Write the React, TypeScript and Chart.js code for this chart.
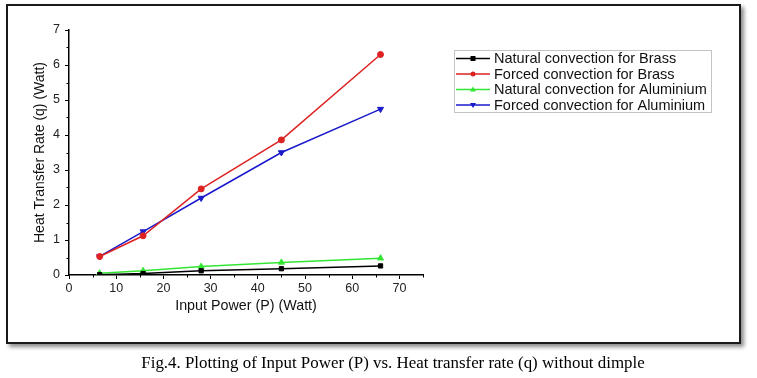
import React, { useEffect, useRef } from "react";
import { Chart, registerables } from "chart.js";

Chart.register(...registerables);

const inputPower = [6.5, 15.7, 28, 45, 66];
const naturalBrass = [0.01, 0.04, 0.12, 0.18, 0.26];
const forcedBrass = [0.53, 1.12, 2.46, 3.86, 6.3];
const naturalAluminium = [0.05, 0.12, 0.24, 0.36, 0.48];
const forcedAluminium = [0.53, 1.24, 2.2, 3.5, 4.74];

const seriesLabels = [
  "Natural convection for Brass",
  "Forced convection for Brass",
  "Natural convection for Aluminium",
  "Forced convection for Aluminium",
];
const xMajorTicks = [0, 10, 20, 30, 40, 50, 60, 70];
const yMajorTicks = [0, 1, 2, 3, 4, 5, 6, 7];
const xTitle = "Input Power (P) (Watt)";
const yTitle = "Heat Transfer Rate (q) (Watt)";
const caption = "Fig.4. Plotting of Input Power (P) vs. Heat transfer rate (q) without dimple";

const FONT = "'Liberation Sans', Arial, sans-serif";

const minorTicksPlugin = {
  id: "minorTicks",
  afterDraw(chart: any) {
    const ctx = chart.ctx;
    const xs = chart.scales.x;
    const ys = chart.scales.y;
    const area = chart.chartArea;
    ctx.save();
    ctx.strokeStyle = "#000";
    ctx.lineWidth = 1;
    for (let v = 5; v <= 75; v += 10) {
      const px = Math.round(xs.getPixelForValue(v)) + 0.5;
      ctx.beginPath();
      ctx.moveTo(px, area.bottom);
      ctx.lineTo(px, area.bottom + 2.5);
      ctx.stroke();
    }
    for (let v = 0.5; v <= 7; v += 1) {
      const py = Math.round(ys.getPixelForValue(v)) + 0.5;
      ctx.beginPath();
      ctx.moveTo(area.left, py);
      ctx.lineTo(area.left - 2.5, py);
      ctx.stroke();
    }
    ctx.restore();
  },
};

const legendPlugin = {
  id: "customLegend",
  afterDraw(chart: any) {
    const ctx = chart.ctx;
    const left = 454;
    const top = 50;
    const w = 257;
    const h = 62;
    ctx.save();
    ctx.strokeStyle = "#c4c4c4";
    ctx.lineWidth = 1;
    ctx.strokeRect(left + 0.5, top + 0.5, w, h);
    ctx.font = `14.5px ${FONT}`;
    ctx.textBaseline = "middle";
    ctx.textAlign = "left";
    chart.data.datasets.forEach((ds: any, i: number) => {
      const y = top + 8.5 + i * 15.5;
      ctx.strokeStyle = ds.borderColor;
      ctx.lineWidth = 1.5;
      ctx.beginPath();
      ctx.moveTo(left + 2, y);
      ctx.lineTo(left + 36, y);
      ctx.stroke();
      ctx.fillStyle = ds.backgroundColor;
      ctx.strokeStyle = ds.borderColor;
      ctx.lineWidth = 1;
      const style = ds.pointStyle;
      const cx = left + 19;
      const r = 2.5;
      ctx.beginPath();
      if (style === "rect") {
        ctx.rect(cx - r, y - r, 2 * r, 2 * r);
      } else if (style === "circle") {
        ctx.arc(cx, y, r, 0, Math.PI * 2);
      } else if (style === "triangle" && !ds.pointRotation) {
        ctx.moveTo(cx, y - r - 0.5);
        ctx.lineTo(cx + r + 0.5, y + r - 0.5);
        ctx.lineTo(cx - r - 0.5, y + r - 0.5);
        ctx.closePath();
      } else {
        ctx.moveTo(cx, y + r + 0.5);
        ctx.lineTo(cx + r + 0.5, y - r + 0.5);
        ctx.lineTo(cx - r - 0.5, y - r + 0.5);
        ctx.closePath();
      }
      ctx.fill();
      ctx.fillStyle = "#111";
      ctx.fillText(ds.label, left + 40, y + 0.5);
    });
    ctx.restore();
  },
};

export default function App() {
  const canvasRef = useRef<HTMLCanvasElement | null>(null);

  useEffect(() => {
    const canvas = canvasRef.current;
    if (!canvas) return;
    const mk = (label: string, data: number[], color: string, style: string, rot = 0, radius = 3) => ({
      label,
      data: inputPower.map((x, i) => ({ x, y: data[i] })),
      borderColor: color,
      backgroundColor: color,
      borderWidth: 1.5,
      pointStyle: style,
      pointRotation: rot,
      pointRadius: radius,
      pointBorderWidth: 1,
      tension: 0,
    });
    const chart = new Chart(canvas, {
      type: "line",
      data: {
        datasets: [
          mk(seriesLabels[0], naturalBrass, "#000000", "rect", 0, 3),
          mk(seriesLabels[1], forcedBrass, "#dd2222", "circle", 0, 3),
          mk(seriesLabels[2], naturalAluminium, "#33e633", "triangle", 0, 3.5),
          mk(seriesLabels[3], forcedAluminium, "#1a1acc", "triangle", 180, 3.5),
        ] as any,
      },
      options: {
        responsive: false,
        animation: false,
        events: [],
        layout: { padding: { left: 32, top: 30, right: 334, bottom: 63 } },
        plugins: { legend: { display: false }, tooltip: { enabled: false } },
        scales: {
          x: {
            type: "linear",
            min: 0,
            max: 75,
            afterBuildTicks: (s: any) => {
              s.ticks = xMajorTicks.map((v) => ({ value: v }));
            },
            afterFit: (s: any) => {
              s.height = 40;
            },
            grid: { display: true, drawOnChartArea: false, drawTicks: true, tickLength: 4, color: "#000", tickColor: "#000" },
            border: { display: true, color: "#000", width: 1.5 },
            ticks: { color: "#222", padding: 2, font: { family: FONT, size: 12.5 }, maxRotation: 0 },
            title: { display: true, text: xTitle, color: "#111", padding: 0, font: { family: FONT, size: 14.3 } },
          },
          y: {
            type: "linear",
            min: 0,
            max: 7,
            afterBuildTicks: (s: any) => {
              s.ticks = yMajorTicks.map((v) => ({ value: v }));
            },
            afterFit: (s: any) => {
              s.width = 37;
            },
            grid: { display: true, drawOnChartArea: false, drawTicks: true, tickLength: 4, color: "#000", tickColor: "#000" },
            border: { display: true, color: "#000", width: 1.5 },
            ticks: { color: "#222", padding: 5, font: { family: FONT, size: 12.5 } },
            title: { display: true, text: yTitle, color: "#111", padding: 0, font: { family: FONT, size: 14 } },
          },
        },
      },
      plugins: [minorTicksPlugin, legendPlugin],
    });
    return () => chart.destroy();
  }, []);

  return (
    <div style={{ position: "absolute", left: 0, top: 0, width: 757, height: 378, background: "#fff", overflow: "hidden" }}>
      <div
        style={{
          position: "absolute",
          left: 6,
          top: 4,
          width: 731,
          height: 336,
          border: "2px solid #1a1a1a",
          boxShadow: "3px 3px 4px rgba(0,0,0,0.45)",
          background: "#fff",
        }}
      />
      <canvas ref={canvasRef} width={757} height={378} style={{ position: "absolute", left: 0, top: 0, width: 757, height: 378 }} />
      <div
        style={{
          position: "absolute",
          left: 0,
          top: 353,
          width: 786,
          textAlign: "center",
          fontFamily: "'Liberation Serif', 'Times New Roman', serif",
          fontSize: 16.9,
          lineHeight: "19px",
          color: "#000",
          whiteSpace: "nowrap",
        }}
      >
        {caption}
      </div>
    </div>
  );
}
